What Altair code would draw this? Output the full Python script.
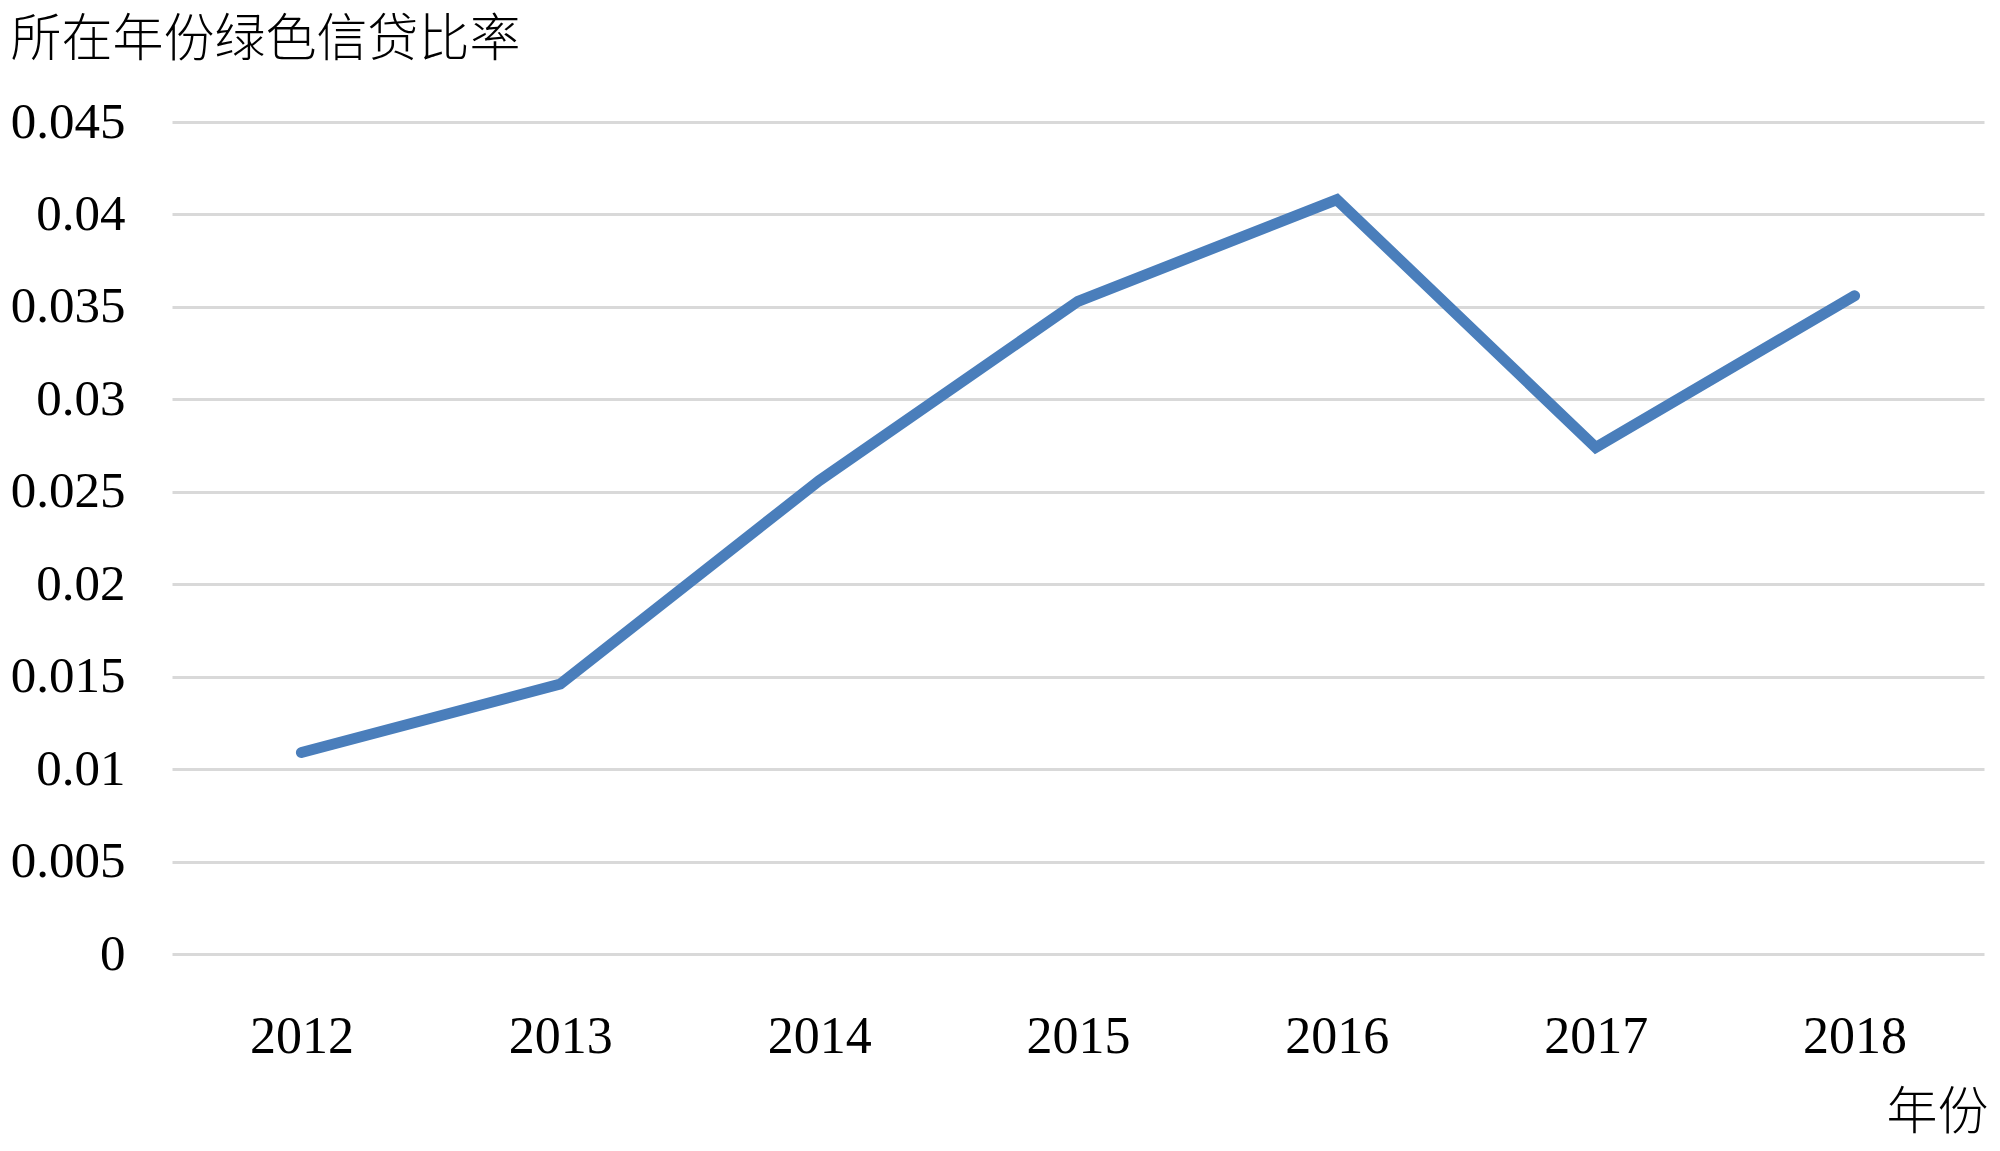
import altair as alt
import pandas as pd

years = ["2012", "2013", "2014", "2015", "2016", "2017", "2018"]
ratios = [0.0109, 0.0146, 0.0256, 0.0353, 0.0408, 0.0274, 0.0356]
y_ticks = [0, 0.005, 0.01, 0.015, 0.02, 0.025, 0.03, 0.035, 0.04, 0.045]
y_title = "所在年份绿色信贷比率"
x_title = "年份"

df = pd.DataFrame({"year": years, "ratio": ratios})

FONT = "Liberation Serif, Noto Sans CJK SC"
W, H = 1812, 832

chart = alt.Chart(df).mark_line(
    color="#4a7ebb", strokeWidth=11, strokeCap="round"
).encode(
    x=alt.X(
        "year:O",
        sort=years,
        scale=alt.Scale(type="point", padding=0.5),
        axis=alt.Axis(
            title=x_title,
            labelAngle=0,
            ticks=False,
            tickSize=0,
            domain=False,
            grid=False,
            labelFont=FONT,
            labelFontSize=52,
            labelColor="#000000",
            labelPadding=82,
            labelBaseline="middle",
            titleFont=FONT,
            titleFontSize=51,
            titleFontWeight=300,
            titleColor="#000000",
            titleX=W + 4,
            titleY=159,
            titleAlign="right",
            titleBaseline="middle",
        ),
    ),
    y=alt.Y(
        "ratio:Q",
        scale=alt.Scale(domain=[0, 0.045], nice=False, zero=True),
        axis=alt.Axis(
            title=y_title,
            values=y_ticks,
            labelExpr="format(datum.value, '~g')",
            ticks=False,
            tickSize=0,
            domain=False,
            grid=True,
            gridColor="#d9d9d9",
            gridWidth=3,
            labelFont=FONT,
            labelFontSize=51,
            labelColor="#000000",
            labelPadding=47,
            labelBaseline="middle",
            titleFont=FONT,
            titleFontSize=51,
            titleFontWeight=300,
            titleColor="#000000",
            titleAngle=0,
            titleX=-162,
            titleY=-82,
            titleAlign="left",
            titleBaseline="middle",
        ),
    ),
).properties(
    width=W,
    height=H,
    autosize=alt.AutoSizeParams(type="none"),
    padding={"left": 164, "top": 114, "right": 4, "bottom": 186},
    background="white",
).configure_view(stroke=None)

chart.save("out.html", embed_options={"renderer": "svg", "actions": False})
